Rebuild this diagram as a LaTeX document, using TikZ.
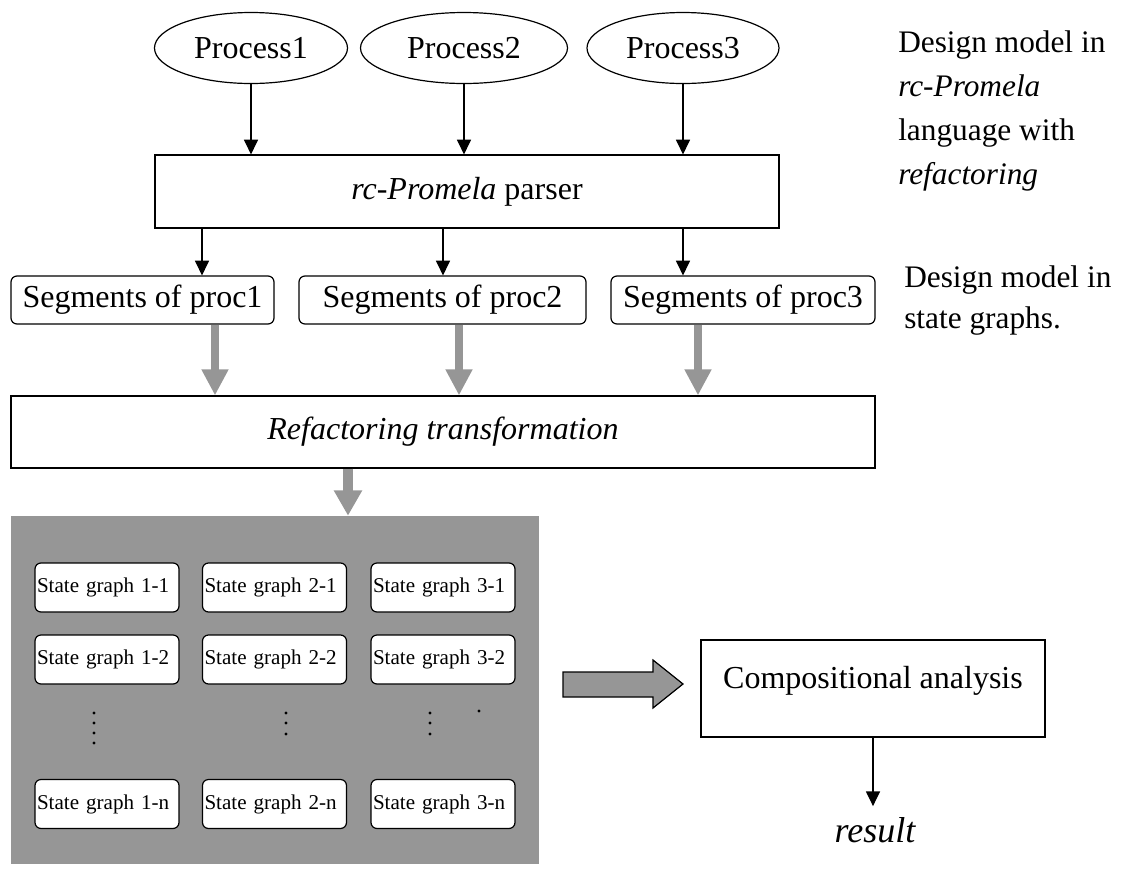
\documentclass[tikz,border=0pt]{standalone}
\usepackage{fontspec}
\setmainfont{Liberation Serif}
\usetikzlibrary{arrows.meta,shapes.geometric}
\definecolor{fillgray}{RGB}{150,150,150}
\begin{document}
\begin{tikzpicture}[x=0.75pt,y=-0.75pt,
  proc/.style={ellipse,draw,line width=0.9pt,minimum height=53.25pt,inner sep=0pt,font=\fontsize{24}{28}\selectfont},
  box/.style={draw,line width=0.9pt,inner sep=0pt,font=\fontsize{24}{28}\selectfont},
  seg/.style={box,rounded corners=4.5pt,minimum height=36pt},
  sg/.style={draw,fill=white,line width=0.9pt,rounded corners=4.5pt,minimum height=36.75pt,text width=105pt,inner xsep=1.5pt,inner ysep=0pt,align=left,font=\fontsize{15.8}{18}\selectfont},
  blk/.style={line width=0.9pt,-{Triangle[length=11pt,width=10.5pt]}},
  gry/.style={draw=fillgray,line width=6pt,-{Triangle[length=19.5pt,width=19pt]}},
  side/.style={align=left,anchor=north west,inner sep=0pt,font=\fontsize{23.5}{33}\selectfont},
  dot/.style={fill=black,circle,inner sep=0pt,minimum size=2.4pt}]
\useasboundingbox (0,0) rectangle (1122,872);
% processes
\node[proc,minimum width=144.75pt] (p1) at (251,48) {Process1};
\node[proc,minimum width=155.25pt] (p2) at (464,48) {Process2};
\node[proc,minimum width=144pt] (p3) at (683,48) {Process3};
% parser
\node[box,minimum width=468pt,minimum height=54.75pt] (parser) at (467,191.5) {\textit{rc-Promela} parser};
% segments
\node[seg,minimum width=197.25pt] (s1) at (142.5,300) {Segments of proc1};
\node[seg,minimum width=215.25pt] (s2) at (442.5,300) {Segments of proc2};
\node[seg,minimum width=198pt] (s3) at (743,300) {Segments of proc3};
% refactoring
\node[box,minimum width=648pt,minimum height=54pt] (ref) at (443,432) {\textit{Refactoring transformation}};
% gray area
\node[fill=fillgray,inner sep=0pt,minimum width=396pt,minimum height=261pt] (bg) at (275,690) {};
% state graphs
\node[sg] (g11) at (107,587.5) {State graph 1-1};
\node[sg] (g21) at (274.5,587.5) {State graph 2-1};
\node[sg] (g31) at (443,587.5) {State graph 3-1};
\node[sg] (g12) at (107,659.5) {State graph 1-2};
\node[sg] (g22) at (274.5,659.5) {State graph 2-2};
\node[sg] (g32) at (443,659.5) {State graph 3-2};
\node[sg] (g1n) at (107,804) {State graph 1-n};
\node[sg] (g2n) at (274.5,804) {State graph 2-n};
\node[sg] (g3n) at (443,804) {State graph 3-n};
% dots
\foreach \y [count=\i] in {713,723,733,743} \node[dot] (da\i) at (94,\y) {};
\foreach \y [count=\i] in {713,723,734} \node[dot] (db\i) at (286,\y) {};
\foreach \y [count=\i] in {713,723,734} \node[dot] (dc\i) at (430,\y) {};
\node[dot] (dd) at (479,711) {};
% compositional analysis
\node[box,minimum width=258pt,minimum height=72.75pt,text height=15pt,text depth=15pt] (comp) at (873,688.5) {Compositional analysis};
\node[anchor=base,inner sep=0pt,inner ysep=8pt,font=\fontsize{27}{30}\selectfont\itshape] (res) at (875,842) {result};
% side texts
\node[side] (t1) at (898,30) {Design model in\\\textit{rc-Promela}\\language with\\\textit{refactoring}};
\node[side,font=\fontsize{23.5}{30.75}\selectfont] (t2) at (904,265) {Design model in\\state graphs.};
% coordinates for arrows
\coordinate (a1) at (202,0);
\coordinate (a2) at (443,0);
\coordinate (a3) at (683,0);
\coordinate (b1) at (215,0);
\coordinate (b2) at (459,0);
\coordinate (b3) at (698,0);
\coordinate (c1) at (348,0);
% black arrows
\draw[blk] (p1.south) -- (p1.south |- parser.north);
\draw[blk] (p2.south) -- (p2.south |- parser.north);
\draw[blk] (p3.south) -- (p3.south |- parser.north);
\draw[blk] (parser.south -| a1) -- (s1.north -| a1);
\draw[blk] (parser.south -| a2) -- (s2.north -| a2);
\draw[blk] (parser.south -| a3) -- (s3.north -| a3);
% gray arrows
\draw[gry] (s1.south -| b1) -- (ref.north -| b1);
\draw[gry] (s2.south -| b2) -- (ref.north -| b2);
\draw[gry] (s3.south -| b3) -- (ref.north -| b3);
\draw[draw=fillgray,line width=8pt,-{Triangle[length=19pt,width=20pt]}] (ref.south -| c1) -- (bg.north -| c1);
% big arrow
\draw[fill=fillgray,line width=0.9pt] (563,672) -- (653,672) -- (653,660) -- (683,684) -- (653,708) -- (653,697) -- (563,697) -- cycle;
% result arrow
\draw[blk] (comp.south) -- (comp.south |- res.north);
\end{tikzpicture}
\end{document}
